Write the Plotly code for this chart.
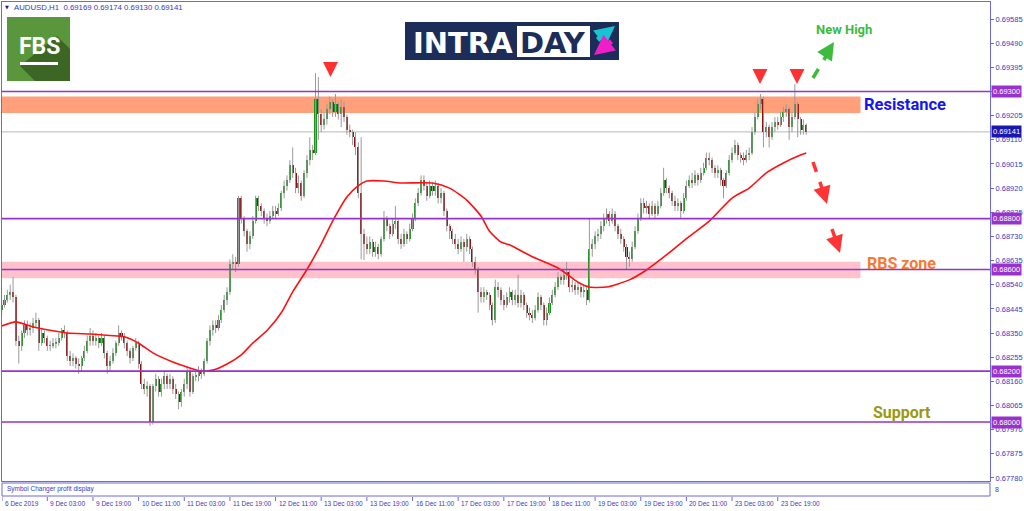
import plotly.graph_objects as go

# ---------------- data (AUDUSD H1, 6 Dec 2019 11:00 -> 24 Dec 2019 05:00) ----------------
OPEN0 = 0.6844
CLOSE = [
    0.6846, 0.6848, 0.6850, 0.6851, 0.6849, 0.6832, 0.6830, 0.6835, 0.6838, 0.6836,
    0.6837, 0.6839, 0.6840, 0.6831, 0.6835, 0.6833, 0.6830, 0.6830, 0.6831, 0.6831,
    0.6833, 0.6836, 0.6835, 0.6826, 0.6824, 0.6825, 0.6823, 0.6822, 0.6825, 0.6828,
    0.6832, 0.6834, 0.6832, 0.6833, 0.6831, 0.6833, 0.6827, 0.6822, 0.6824, 0.6827,
    0.6831, 0.6835, 0.6834, 0.6831, 0.6828, 0.6825, 0.6829, 0.6831, 0.6823, 0.6815,
    0.6813, 0.6814, 0.6800, 0.6814, 0.6817, 0.6812, 0.6815, 0.6818, 0.6815, 0.6817,
    0.6813, 0.6811, 0.6808, 0.6812, 0.6815, 0.6820, 0.6812, 0.6818, 0.6818, 0.6820,
    0.6819, 0.6824, 0.6832, 0.6836, 0.6838, 0.6837, 0.6840, 0.6844, 0.6848, 0.6851,
    0.6862, 0.6863, 0.6862, 0.6888, 0.6880, 0.6875, 0.6870, 0.6873, 0.6879, 0.6888,
    0.6885, 0.6883, 0.6880, 0.6879, 0.6881, 0.6883, 0.6882, 0.6884, 0.6890, 0.6893,
    0.6895, 0.6901, 0.6898, 0.6892, 0.6894, 0.6889, 0.6898, 0.6903, 0.6907, 0.6906,
    0.6927, 0.6921, 0.6917, 0.6919, 0.6923, 0.6926, 0.6922, 0.6925, 0.6921, 0.6924,
    0.6920, 0.6915, 0.6914, 0.6912, 0.6908, 0.6890, 0.6874, 0.6870, 0.6868, 0.6871,
    0.6867, 0.6869, 0.6866, 0.6872, 0.6880, 0.6877, 0.6874, 0.6878, 0.6879, 0.6872,
    0.6870, 0.6874, 0.6872, 0.6876, 0.6880, 0.6886, 0.6890, 0.6895, 0.6893, 0.6889,
    0.6893, 0.6891, 0.6893, 0.6888, 0.6890, 0.6883, 0.6877, 0.6875, 0.6872, 0.6870,
    0.6868, 0.6871, 0.6869, 0.6872, 0.6868, 0.6863, 0.6860, 0.6851, 0.6849, 0.6851,
    0.6850, 0.6846, 0.6840, 0.6853, 0.6852, 0.6848, 0.6846, 0.6849, 0.6851, 0.6848,
    0.6850, 0.6847, 0.6850, 0.6846, 0.6843, 0.6842, 0.6841, 0.6844, 0.6849, 0.6846,
    0.6840, 0.6843, 0.6847, 0.6850, 0.6853, 0.6857, 0.6856, 0.6858, 0.6859, 0.6853,
    0.6854, 0.6852, 0.6853, 0.6851, 0.6852, 0.6848, 0.6868, 0.6870, 0.6873, 0.6874,
    0.6877, 0.6880, 0.6882, 0.6879, 0.6882, 0.6877, 0.6874, 0.6872, 0.6869, 0.6865,
    0.6864, 0.6869, 0.6875, 0.6880, 0.6886, 0.6884, 0.6885, 0.6882, 0.6885, 0.6882,
    0.6885, 0.6890, 0.6895, 0.6892, 0.6890, 0.6887, 0.6885, 0.6886, 0.6883, 0.6888,
    0.6893, 0.6895, 0.6894, 0.6897, 0.6895, 0.6898, 0.6900, 0.6904, 0.6903, 0.6900,
    0.6898, 0.6899, 0.6895, 0.6893, 0.6898, 0.6903, 0.6906, 0.6909, 0.6905, 0.6904,
    0.6903, 0.6905, 0.6906, 0.6914, 0.6920, 0.6925, 0.6927, 0.6914, 0.6916, 0.6912,
    0.6916, 0.6918, 0.6917, 0.6920, 0.6922, 0.6923, 0.6916, 0.6920, 0.6925, 0.6919,
    0.6915, 0.69169, 0.69141,
]
HIGH = [
    0.6848, 0.6850, 0.6852, 0.6854, 0.6857, 0.6850, 0.6834, 0.6836, 0.6840, 0.6840,
    0.6839, 0.6841, 0.6843, 0.6841, 0.6837, 0.6836, 0.6834, 0.6832, 0.6833, 0.6833,
    0.6835, 0.6837, 0.6838, 0.6836, 0.6828, 0.6827, 0.6826, 0.6825, 0.6826, 0.6830,
    0.6834, 0.6837, 0.6836, 0.6835, 0.6834, 0.6835, 0.6834, 0.6828, 0.6826, 0.6829,
    0.6832, 0.6838, 0.6836, 0.6835, 0.6832, 0.6829, 0.6830, 0.6833, 0.6832, 0.6824,
    0.6817, 0.6816, 0.6815, 0.6815, 0.6819, 0.6818, 0.6817, 0.6820, 0.6819, 0.6819,
    0.6818, 0.6815, 0.6812, 0.6813, 0.6817, 0.6822, 0.6821, 0.6819, 0.6820, 0.6822,
    0.6821, 0.6825, 0.6833, 0.6838, 0.6840, 0.6840, 0.6842, 0.6846, 0.6850, 0.6853,
    0.6864, 0.6866, 0.6865, 0.6889, 0.6889, 0.6881, 0.6876, 0.6875, 0.6881, 0.6889,
    0.6889, 0.6886, 0.6884, 0.6882, 0.6883, 0.6885, 0.6885, 0.6886, 0.6891, 0.6895,
    0.6897, 0.6903, 0.6908, 0.6900, 0.6897, 0.6895, 0.6899, 0.6905, 0.6912, 0.6909,
    0.69372, 0.69357, 0.6923, 0.6922, 0.6925, 0.6928, 0.6927, 0.6929, 0.6926, 0.6927,
    0.6926, 0.6921, 0.6917, 0.6915, 0.6914, 0.6910, 0.6912, 0.6876, 0.6873, 0.6873,
    0.6872, 0.6871, 0.6870, 0.6873, 0.6883, 0.6881, 0.6878, 0.6880, 0.6885, 0.6880,
    0.6874, 0.6876, 0.6875, 0.6878, 0.6882, 0.6888, 0.6892, 0.6897, 0.6897, 0.6894,
    0.6895, 0.6894, 0.6895, 0.6894, 0.6892, 0.6891, 0.6884, 0.6878, 0.6876, 0.6874,
    0.6872, 0.6873, 0.6872, 0.6874, 0.6873, 0.6869, 0.6865, 0.6861, 0.6853, 0.6853,
    0.6852, 0.6851, 0.6847, 0.6856, 0.6855, 0.6853, 0.6850, 0.6851, 0.6853, 0.6852,
    0.6852, 0.6858, 0.6852, 0.6851, 0.6847, 0.6845, 0.6844, 0.6846, 0.6851, 0.6850,
    0.6847, 0.6845, 0.6849, 0.6852, 0.6855, 0.6859, 0.6858, 0.6860, 0.6863, 0.6860,
    0.6856, 0.6855, 0.6855, 0.6854, 0.6854, 0.6853, 0.6880, 0.6872, 0.6875, 0.6876,
    0.6879, 0.6882, 0.6884, 0.6883, 0.6884, 0.6883, 0.6878, 0.6876, 0.6873, 0.6870,
    0.6867, 0.6871, 0.6877, 0.6882, 0.6888, 0.6888, 0.6887, 0.6886, 0.6887, 0.6886,
    0.6887, 0.6892, 0.6900, 0.6896, 0.6893, 0.6891, 0.6889, 0.6888, 0.6887, 0.6890,
    0.6895, 0.6897, 0.6898, 0.6899, 0.6898, 0.6900, 0.6902, 0.6906, 0.6906, 0.6904,
    0.6901, 0.6901, 0.6900, 0.6896, 0.6899, 0.6905, 0.6908, 0.6911, 0.6910, 0.6906,
    0.6906, 0.6907, 0.6908, 0.6916, 0.6922, 0.6927, 0.6929, 0.6928, 0.6918, 0.6917,
    0.6918, 0.6920, 0.6920, 0.6922, 0.6924, 0.6925, 0.6924, 0.6922, 0.6933, 0.6926,
    0.6920, 0.6919, 0.69174,
]
LOW = [
    0.6842, 0.6845, 0.6847, 0.6848, 0.6847, 0.6830, 0.6823, 0.6828, 0.6833, 0.6834,
    0.6834, 0.6835, 0.6837, 0.6828, 0.6830, 0.6831, 0.6828, 0.6828, 0.6829, 0.6829,
    0.6830, 0.6832, 0.6833, 0.6824, 0.6822, 0.6822, 0.6821, 0.6819, 0.6820, 0.6824,
    0.6827, 0.6830, 0.6830, 0.6830, 0.6829, 0.6830, 0.6825, 0.6819, 0.6820, 0.6823,
    0.6826, 0.6830, 0.6832, 0.6829, 0.6826, 0.6823, 0.6824, 0.6828, 0.6821, 0.6813,
    0.6811, 0.6810, 0.67985, 0.6799, 0.6812, 0.6810, 0.6810, 0.6813, 0.6813, 0.6813,
    0.6811, 0.6809, 0.6805, 0.6806, 0.6810, 0.6813, 0.6810, 0.6811, 0.6816, 0.6816,
    0.6817, 0.6818, 0.6823, 0.6830, 0.6834, 0.6835, 0.6836, 0.6839, 0.6843, 0.6846,
    0.6850, 0.6860, 0.6859, 0.6861, 0.6878, 0.6873, 0.6867, 0.6868, 0.6872, 0.6878,
    0.6883, 0.6881, 0.6878, 0.6877, 0.6878, 0.6880, 0.6880, 0.6881, 0.6883, 0.6888,
    0.6891, 0.6894, 0.6896, 0.6890, 0.6890, 0.6887, 0.6888, 0.6896, 0.6901, 0.6903,
    0.6905, 0.6911, 0.6914, 0.6915, 0.6917, 0.6921, 0.6920, 0.6920, 0.6919, 0.6916,
    0.6918, 0.6913, 0.6912, 0.6909, 0.6905, 0.6888, 0.6864, 0.68637, 0.6866, 0.6866,
    0.6865, 0.6865, 0.6864, 0.6865, 0.6871, 0.6875, 0.6872, 0.6873, 0.6876, 0.6870,
    0.6868, 0.6869, 0.6870, 0.6871, 0.6875, 0.6879, 0.6885, 0.6889, 0.6891, 0.6887,
    0.6888, 0.6889, 0.6889, 0.6886, 0.6886, 0.6881, 0.6875, 0.6872, 0.6870, 0.6868,
    0.6866, 0.6867, 0.6863, 0.6867, 0.6866, 0.6861, 0.6858, 0.6843, 0.6847, 0.6847,
    0.6848, 0.6844, 0.6838, 0.6839, 0.6849, 0.6846, 0.6844, 0.6845, 0.6847, 0.6846,
    0.6846, 0.6845, 0.6845, 0.6844, 0.6841, 0.6840, 0.6839, 0.6840, 0.6843, 0.6844,
    0.6838, 0.6838, 0.6842, 0.6846, 0.6849, 0.6852, 0.6854, 0.6854, 0.6856, 0.6851,
    0.6851, 0.6850, 0.6850, 0.6849, 0.6849, 0.6846, 0.6847, 0.6865, 0.6868, 0.6871,
    0.6872, 0.6875, 0.6878, 0.6877, 0.6878, 0.6875, 0.6872, 0.6870, 0.6867, 0.6860,
    0.6861, 0.6863, 0.6868, 0.6874, 0.6879, 0.6882, 0.6882, 0.6880, 0.6881, 0.6880,
    0.6881, 0.6884, 0.6889, 0.6890, 0.6888, 0.6885, 0.6883, 0.6883, 0.6880, 0.6882,
    0.6887, 0.6892, 0.6892, 0.6893, 0.6893, 0.6894, 0.6897, 0.6899, 0.6901, 0.6898,
    0.6896, 0.6896, 0.6893, 0.6888, 0.6892, 0.6897, 0.6902, 0.6905, 0.6903, 0.6902,
    0.6901, 0.6902, 0.6903, 0.6905, 0.6913, 0.6919, 0.6923, 0.6908, 0.6912, 0.6908,
    0.6911, 0.6914, 0.6915, 0.6916, 0.6918, 0.6920, 0.6911, 0.6914, 0.6919, 0.6912,
    0.6913, 0.6913, 0.69130,
]
# moving average (red line) read at selected bars
MA_IDX = [0, 5, 11, 23, 31, 38, 43, 48, 53, 60, 65, 70, 74, 79, 84, 88, 93, 98, 102, 107,
          112, 116, 121, 125, 128, 134, 140, 151, 157, 163, 168, 171, 175, 178, 186, 195,
          202, 206, 212, 220, 226, 233, 241, 248, 256, 262, 268, 274, 280, 282]
MA_VAL = [0.68378, 0.68394, 0.68374, 0.68350, 0.68346, 0.68340, 0.68335, 0.68310, 0.68272, 0.68236,
          0.68216, 0.68200, 0.68204, 0.68228, 0.68264, 0.68310, 0.68360, 0.68430, 0.68512, 0.68600,
          0.68700, 0.68790, 0.68885, 0.68930, 0.68948, 0.68948, 0.68940, 0.68940, 0.68920, 0.68873,
          0.68810, 0.68750, 0.68708, 0.68697, 0.68650, 0.68606, 0.68550, 0.68531, 0.68531, 0.68559,
          0.68598, 0.68657, 0.68730, 0.68790, 0.68881, 0.68920, 0.68980, 0.69019, 0.69050, 0.69058]

LEVELS = [0.69300, 0.68800, 0.68600, 0.68200, 0.68000]
CURRENT = 0.69141
RESIST_ZONE = [0.69215, 0.69280]
RBS_ZONE = [0.68565, 0.68630]
Y_TICKS = [0.67780, 0.67875, 0.67970, 0.68065, 0.68160, 0.68255, 0.68350, 0.68445, 0.68540,
           0.68635, 0.68730, 0.68825, 0.68920, 0.69015, 0.69110, 0.69205, 0.69300, 0.69395,
           0.69490, 0.69585]
X_TICK_POS = [0, 16, 32, 48, 64, 80, 96, 112, 128, 144, 160, 176, 192, 208, 224, 240, 256, 272]
X_TICK_TEXT = ["6 Dec 2019", "9 Dec 03:00", "9 Dec 19:00", "10 Dec 11:00", "11 Dec 03:00",
               "11 Dec 19:00", "12 Dec 11:00", "13 Dec 03:00", "13 Dec 19:00", "16 Dec 11:00",
               "17 Dec 03:00", "17 Dec 19:00", "18 Dec 11:00", "19 Dec 03:00", "19 Dec 19:00",
               "20 Dec 11:00", "23 Dec 03:00", "23 Dec 19:00"]
HEADER = "AUDUSD,H1  0.69169 0.69174 0.69130 0.69141"

# ---------------- layout geometry ----------------
W, H = 1024, 511
ML, MR, MT, MB = 2, 34, 2, 30
PW, PH = W - ML - MR, H - MT - MB
X_RANGE = [0.12, 346.4]
Y_RANGE = [0.67768, 0.69652]
ZONE_END = 301  # bar index where the drawn zones stop


def px(x):
    return (x - ML) / PW


def py(y):
    return (H - MB - y) / PH


AX_BLUE = "#6b6bd8"
TXT_BLUE = "#3a3ac0"
PURPLE = "#9932CC"

n = len(CLOSE)
idx = list(range(n))
opens = [OPEN0] + CLOSE[:-1]
base = [min(o, c) for o, c in zip(opens, CLOSE)]
height = [max(abs(c - o), 0.000015) for o, c in zip(opens, CLOSE)]
colors = ["#1f931f" if c >= o else "#8e0b0b" for o, c in zip(opens, CLOSE)]

wx, wy = [], []
for i in idx:
    wx += [i, i, None]
    wy += [LOW[i], HIGH[i], None]

fig = go.Figure()
fig.add_trace(go.Scatter(x=wx, y=wy, mode="lines", line=dict(color="#9a9a9a", width=1),
                         hoverinfo="skip"))
fig.add_trace(go.Bar(x=idx, y=height, base=base, width=0.72, marker=dict(color=colors, line=dict(width=0)),
                     hoverinfo="skip"))
fig.add_trace(go.Scatter(x=MA_IDX, y=MA_VAL, mode="lines", line=dict(color="#ff1010", width=1.6, shape="spline", smoothing=0.6),
                         hoverinfo="skip"))

shapes = []
# zones
shapes.append(dict(type="rect", xref="x", yref="y", x0=X_RANGE[0], x1=ZONE_END, y0=RESIST_ZONE[0], y1=RESIST_ZONE[1],
                   fillcolor="#FFA07A", line=dict(width=0), layer="below"))
shapes.append(dict(type="rect", xref="x", yref="y", x0=X_RANGE[0], x1=ZONE_END, y0=RBS_ZONE[0], y1=RBS_ZONE[1],
                   fillcolor="#FFC2CC", line=dict(width=0), layer="below"))
# current price line
shapes.append(dict(type="line", xref="paper", yref="y", x0=0, x1=1, y0=CURRENT, y1=CURRENT,
                   line=dict(color="#b8b8b8", width=1), layer="below"))
for lv in LEVELS:
    shapes.append(dict(type="line", xref="paper", yref="y", x0=0, x1=1, y0=lv, y1=lv,
                       line=dict(color=PURPLE, width=1.6), layer="above"))

# sub-window box
shapes.append(dict(type="rect", xref="paper", yref="paper", x0=px(2), x1=px(990), y0=py(496), y1=py(483),
                   line=dict(color=AX_BLUE, width=1), fillcolor="white"))
# x tick marks
for p in X_TICK_POS:
    shapes.append(dict(type="line", xref="x", yref="paper", x0=max(p, X_RANGE[0]), x1=max(p, X_RANGE[0]),
                       y0=py(497), y1=py(501), line=dict(color=AX_BLUE, width=1)))

# FBS logo
shapes.append(dict(type="rect", xref="paper", yref="paper", x0=px(7), x1=px(70), y0=py(81), y1=py(17),
                   fillcolor="#5a963c", line=dict(width=0)))
shapes.append(dict(type="path", xref="paper", yref="paper",
                   path=f"M {px(20)},{py(66)} L {px(57)},{py(36)} L {px(70)},{py(49)} L {px(70)},{py(81)} L {px(35)},{py(81)} Z",
                   fillcolor="#3b6624", line=dict(width=0)))
shapes.append(dict(type="rect", xref="paper", yref="paper", x0=px(20), x1=px(58), y0=py(65), y1=py(62),
                   fillcolor="white", line=dict(width=0)))

# INTRADAY logo
shapes.append(dict(type="rect", xref="paper", yref="paper", x0=px(405), x1=px(619), y0=py(60), y1=py(22),
                   fillcolor="#1b2d58", line=dict(width=0)))
shapes.append(dict(type="rect", xref="paper", yref="paper", x0=px(517), x1=px(590), y0=py(57), y1=py(26),
                   fillcolor="white", line=dict(width=0)))

# dashed forecast arrows (shafts)
shapes.append(dict(type="line", xref="paper", yref="paper", x0=px(813), y0=py(78), x1=px(828), y1=py(53),
                   line=dict(color="#3dbb3d", width=3.5, dash="dash")))
shapes.append(dict(type="line", xref="paper", yref="paper", x0=px(813), y0=py(162), x1=px(824), y1=py(194),
                   line=dict(color="#ff3535", width=3.5, dash="dash")))
shapes.append(dict(type="line", xref="paper", yref="paper", x0=px(832), y0=py(229), x1=px(837), y1=py(244),
                   line=dict(color="#ff3535", width=3.5, dash="dash")))

ann = []
# y labels for levels and current price
for lv in LEVELS:
    ann.append(dict(xref="paper", yref="y", x=px(991), y=lv, xanchor="left", yanchor="middle",
                    text=f"{lv:.5f}", showarrow=False, bgcolor=PURPLE, borderpad=1,
                    font=dict(family="Liberation Sans", size=7.5, color="white")))
ann.append(dict(xref="paper", yref="y", x=px(991), y=CURRENT, xanchor="left", yanchor="middle",
                text=f"{CURRENT:.5f}", showarrow=False, bgcolor="#1818b0", borderpad=1,
                font=dict(family="Liberation Sans", size=7.5, color="white")))
# x labels
for p, t in zip(X_TICK_POS, X_TICK_TEXT):
    ann.append(dict(xref="x", yref="paper", x=max(p, X_RANGE[0]), y=py(503), xanchor="left", yanchor="middle",
                    xshift=1, text=t, showarrow=False,
                    font=dict(family="Liberation Sans", size=6.5, color=TXT_BLUE)))
# header
ann.append(dict(xref="paper", yref="paper", x=px(3), y=py(7), xanchor="left", yanchor="middle",
                text="▼", showarrow=False, font=dict(family="DejaVu Sans", size=5, color="#1a1a9a")))
ann.append(dict(xref="paper", yref="paper", x=px(12), y=py(7), xanchor="left", yanchor="middle",
                text=HEADER, showarrow=False, font=dict(family="Liberation Sans", size=7.8, color=TXT_BLUE)))
ann.append(dict(xref="paper", yref="paper", x=px(5), y=py(489), xanchor="left", yanchor="middle",
                text="Symbol Changer profit display", showarrow=False,
                font=dict(family="Liberation Sans", size=6.5, color=TXT_BLUE)))
ann.append(dict(xref="paper", yref="paper", x=px(993), y=py(489), xanchor="left", yanchor="middle",
                text="8", showarrow=False, font=dict(family="Liberation Sans", size=7, color=TXT_BLUE)))
# logo texts
ann.append(dict(xref="paper", yref="paper", x=px(39), y=py(46), xanchor="center", yanchor="middle",
                text="<b>FBS</b>", showarrow=False, font=dict(family="Roboto", size=23, color="white")))
ann.append(dict(xref="paper", yref="paper", x=px(411), y=py(43), xanchor="left", yanchor="middle",
                text="<b>INTRA</b>", showarrow=False, font=dict(family="DejaVu Sans", size=29, color="white")))
ann.append(dict(xref="paper", yref="paper", x=px(553), y=py(43), xanchor="center", yanchor="middle",
                text="<b>DAY</b>", showarrow=False, font=dict(family="DejaVu Sans", size=29, color="#1b2d58")))
ann.append(dict(xref="paper", yref="paper", x=px(615), y=py(26), ax=-19, ay=15, text="", showarrow=True,
                arrowhead=2, arrowsize=0.8, arrowwidth=5, arrowcolor="#18c4d0"))
ann.append(dict(xref="paper", yref="paper", x=px(594), y=py(55), ax=19, ay=-15, text="", showarrow=True,
                arrowhead=2, arrowsize=0.8, arrowwidth=5, arrowcolor="#f01ec8"))
# red peak arrows
for (ax_, ay_) in [(330.5, 77), (760, 84), (797, 84)]:
    ann.append(dict(xref="paper", yref="paper", x=px(ax_), y=py(ay_), ax=0, ay=-12, text="", showarrow=True,
                    arrowhead=2, arrowsize=1.0, arrowwidth=3, arrowcolor="#ff3030"))
# dashed-arrow heads
ann.append(dict(xref="paper", yref="paper", x=px(834), y=py(42), ax=-7, ay=11, text="", showarrow=True,
                arrowhead=2, arrowsize=1, arrowwidth=3.5, arrowcolor="#3dbb3d"))
ann.append(dict(xref="paper", yref="paper", x=px(827), y=py(204), ax=-3, ay=-10, text="", showarrow=True,
                arrowhead=2, arrowsize=1, arrowwidth=3.5, arrowcolor="#ff3535"))
ann.append(dict(xref="paper", yref="paper", x=px(840), y=py(253), ax=-3, ay=-9, text="", showarrow=True,
                arrowhead=2, arrowsize=1, arrowwidth=3.5, arrowcolor="#ff3535"))
# labels
ann.append(dict(xref="paper", yref="paper", x=px(814), y=py(30), xanchor="left", yanchor="middle",
                text="<b>New High</b>", showarrow=False, font=dict(family="Roboto", size=13, color="#3dbb3d")))
ann.append(dict(xref="paper", yref="paper", x=px(862), y=py(105), xanchor="left", yanchor="middle",
                text="<b>Resistance</b>", showarrow=False, font=dict(family="Roboto", size=16.5, color="#1515f0")))
ann.append(dict(xref="paper", yref="paper", x=px(865), y=py(263), xanchor="left", yanchor="middle",
                text="<b>RBS zone</b>", showarrow=False, font=dict(family="Roboto", size=16, color="#fa7832")))
ann.append(dict(xref="paper", yref="paper", x=px(871), y=py(412), xanchor="left", yanchor="middle",
                text="<b>Support</b>", showarrow=False, font=dict(family="Roboto", size=16, color="#9a9a12")))

# the 0.69300 grid value is covered by its own highlighted level label
tick_text = ["" if v in LEVELS else f"{v:.5f}" for v in Y_TICKS]

fig.update_layout(
    width=W, height=H, margin=dict(l=ML, r=MR, t=MT, b=MB, autoexpand=False),
    paper_bgcolor="white", plot_bgcolor="white", showlegend=False, hovermode=False,
    shapes=shapes, annotations=ann,
    xaxis=dict(range=X_RANGE, showgrid=False, zeroline=False, showticklabels=False, ticks="",
               showline=True, mirror=True, linecolor=AX_BLUE, linewidth=1, fixedrange=True),
    yaxis=dict(range=Y_RANGE, side="right", showgrid=False, zeroline=False, tickvals=Y_TICKS,
               ticktext=tick_text, ticks="outside", ticklen=3, tickcolor=AX_BLUE,
               tickfont=dict(family="Liberation Sans", size=7.5, color=TXT_BLUE),
               showline=True, mirror=True, linecolor=AX_BLUE, linewidth=1, fixedrange=True),
    bargap=0,
)
fig.write_html("out.html", config={"displayModeBar": False},
               post_script="document.body.style.margin='0';document.body.style.overflow='hidden';")
